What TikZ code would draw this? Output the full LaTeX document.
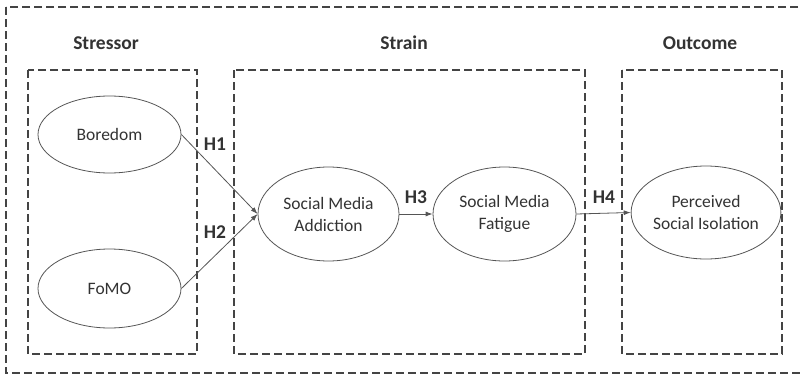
\documentclass[tikz,border=0pt]{standalone}
\usepackage{fontspec}
\setmainfont{Carlito}
\usetikzlibrary{shapes.geometric,arrows.meta}
\definecolor{ink}{HTML}{333333}
\definecolor{frame}{HTML}{444444}
\definecolor{edge}{HTML}{555555}
\tikzset{
  grp/.style={draw=frame, line width=1.3pt, dash pattern=on 8pt off 4pt},
  construct/.style={ellipse, draw=edge, line width=0.8pt, inner sep=0pt,
    text=ink, align=center, font=\fontsize{17.5}{22}\selectfont},
  head/.style={text=ink, font=\fontsize{19.5}{23}\selectfont\bfseries},
  hyp/.style={text=ink, font=\fontsize{19.5}{23}\selectfont\bfseries},
  path/.style={draw=edge, line width=0.8pt, -{Latex[length=7pt,width=5pt]}},
}
\begin{document}
\begin{tikzpicture}[x=1pt,y=-1pt]
  \useasboundingbox (0,0) rectangle (800,375);
  \clip (0,0) rectangle (800,375);
  \fill[white] (0,0) rectangle (800,375);

  % framing boxes
  \draw[grp] (6,7) rectangle (810,373);
  \draw[grp] (28,70) rectangle (197,354);
  \draw[grp] (234,70) rectangle (585,354);
  \draw[grp] (622,70) rectangle (782,354);

  % group headings
  \node[head] (hstress) at (106,43) {Stressor};
  \node[head] (hstrain) at (404,43) {Strain};
  \node[head] (hout) at (700,43) {Outcome};

  % constructs
  \node[construct, minimum width=143pt, minimum height=77pt] (bor) at (109.5,134.5) {Boredom};
  \node[construct, minimum width=143pt, minimum height=79pt] (fomo) at (109.5,288.5) {FoMO};
  \node[construct, minimum width=141pt, minimum height=94pt] (sma) at (328.5,214) {Social Media\\Addiction};
  \node[construct, minimum width=143pt, minimum height=94pt] (smf) at (504.5,214) {Social Media\\Fatigue};
  \node[construct, minimum width=140pt, minimum height=93pt] (psi) at (706,212.5) {Perceived\\Social Isolation};

  % hypothesised paths
  \draw[path] (bor.east) -- (sma.west);
  \draw[path] (fomo.east) -- (sma.west);
  \draw[path] (sma.east) -- (smf.west);
  \draw[path] (smf.east) -- (psi.west);

  % hypothesis labels
  \node[hyp] (h1) at (215,144) {H1};
  \node[hyp] (h2) at (215,232) {H2};
  \node[hyp] (h3) at (416,197) {H3};
  \node[hyp] (h4) at (604,197) {H4};
\end{tikzpicture}
\end{document}
